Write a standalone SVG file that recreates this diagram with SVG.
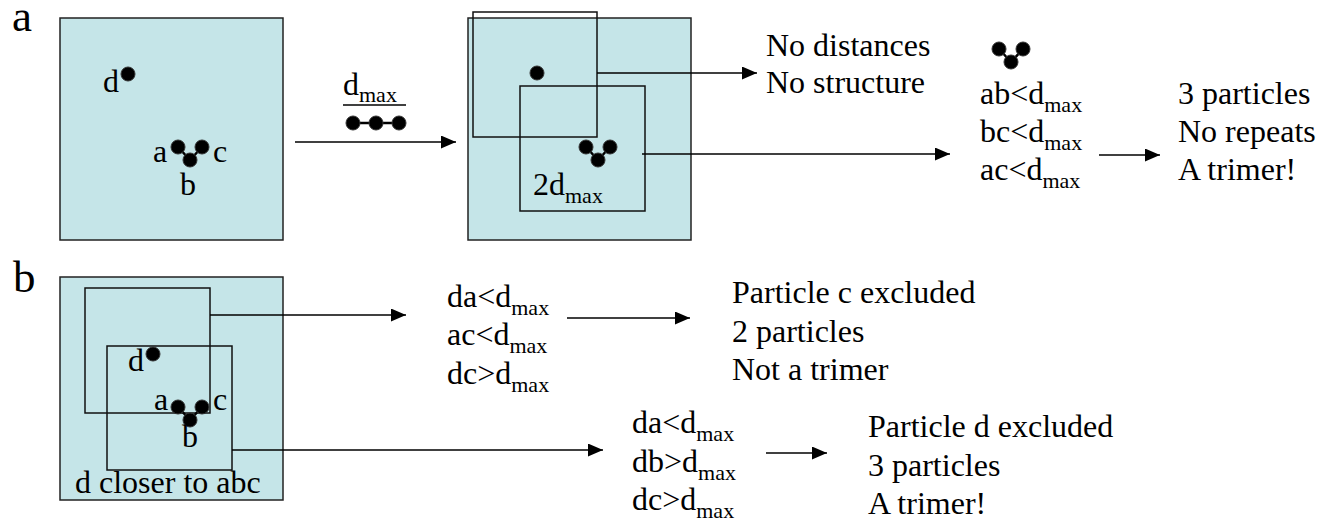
<svg xmlns="http://www.w3.org/2000/svg" width="1333" height="522" viewBox="0 0 1333 522">
<style>
text{font-family:"Liberation Serif","Times New Roman",serif;font-size:32px;fill:#000}
.big{font-size:45px}
.sub{font-size:22px}
.box{fill:#C5E5E8;stroke:#222;stroke-width:1.5}
.win{fill:none;stroke:#111;stroke-width:1.5}
.ln{stroke:#000;stroke-width:1.5;fill:none}
.dot{fill:#000;stroke:#333;stroke-width:1}
.bond{stroke:#000;stroke-width:2.5}
</style>
<defs>
<marker id="ah" markerWidth="15" markerHeight="13" refX="15" refY="6.5" orient="auto" markerUnits="userSpaceOnUse">
<path d="M0,0 L15,6.5 L0,13 Z" fill="#000"/>
</marker>
<g id="tri">
<line class="bond" x1="0" y1="0" x2="12" y2="13"/>
<line class="bond" x1="24" y1="0" x2="12" y2="13"/>
<circle class="dot" cx="0" cy="0" r="7"/>
<circle class="dot" cx="24" cy="0" r="7"/>
<circle class="dot" cx="12" cy="13" r="7"/>
</g>
</defs>

<text class="big" x="12" y="31">a</text>
<text class="big" x="13" y="292">b</text>

<g id="box-a1">
<rect class="box" x="60" y="18" width="223" height="222"/>
<circle class="dot" cx="128" cy="74" r="7"/>
<text x="103" y="92">d</text>
<use href="#tri" x="178" y="147"/>
<text x="153" y="162">a</text>
<text x="213" y="162">c</text>
<text x="180" y="195">b</text>
</g>

<g id="dmax-label">
<text x="343" y="95">d<tspan class="sub" dy="7">max</tspan></text>
<line class="ln" x1="343" y1="105" x2="406" y2="105"/>
<line class="bond" x1="353" y1="123" x2="399" y2="123"/>
<circle class="dot" cx="353" cy="123" r="7"/>
<circle class="dot" cx="376" cy="123" r="7"/>
<circle class="dot" cx="399" cy="123" r="7"/>
</g>

<g id="box-a2">
<rect class="box" x="468" y="18" width="223" height="222"/>
<rect class="win" x="473" y="12" width="124" height="125"/>
<rect class="win" x="520" y="86" width="125" height="125"/>
<circle class="dot" cx="537" cy="73" r="7"/>
<use href="#tri" x="586" y="147"/>
<text x="533" y="195">2d<tspan class="sub" dy="8">max</tspan></text>
</g>

<g id="no-dist">
<text x="766" y="56">No distances</text>
<text x="766" y="93">No structure</text>
</g>

<g id="cond-a">
<use href="#tri" x="999" y="49"/>
<text x="980" y="104">ab&lt;d<tspan class="sub" dy="8">max</tspan></text>
<text x="980" y="142">bc&lt;d<tspan class="sub" dy="8">max</tspan></text>
<text x="980" y="180">ac&lt;d<tspan class="sub" dy="8">max</tspan></text>
</g>

<g id="result-a">
<text x="1178" y="104">3 particles</text>
<text x="1178" y="142">No repeats</text>
<text x="1178" y="180">A trimer!</text>
</g>

<g id="box-b">
<rect class="box" x="60" y="277" width="223" height="223"/>
<rect class="win" x="85" y="288" width="125" height="125"/>
<rect class="win" x="107" y="346" width="125" height="124"/>
<circle class="dot" cx="153" cy="354" r="7"/>
<text x="128" y="371">d</text>
<use href="#tri" x="178" y="407"/>
<text x="154" y="410">a</text>
<text x="213" y="410">c</text>
<text x="182" y="447">b</text>
<text x="75" y="493">d closer to abc</text>
</g>

<g id="cond-b1">
<text x="447" y="307">da&lt;d<tspan class="sub" dy="8">max</tspan></text>
<text x="447" y="345">ac&lt;d<tspan class="sub" dy="8">max</tspan></text>
<text x="447" y="384">dc&gt;d<tspan class="sub" dy="8">max</tspan></text>
</g>

<g id="result-b1">
<text x="732" y="303">Particle c excluded</text>
<text x="732" y="342">2 particles</text>
<text x="732" y="380">Not a trimer</text>
</g>

<g id="cond-b2">
<text x="632" y="433">da&lt;d<tspan class="sub" dy="8">max</tspan></text>
<text x="632" y="472">db&gt;d<tspan class="sub" dy="8">max</tspan></text>
<text x="632" y="510">dc&gt;d<tspan class="sub" dy="8">max</tspan></text>
</g>

<g id="result-b2">
<text x="868" y="437">Particle d excluded</text>
<text x="868" y="476">3 particles</text>
<text x="868" y="514">A trimer!</text>
</g>

<g id="connectors">
<line class="ln" x1="295" y1="142" x2="456" y2="142" marker-end="url(#ah)"/>
<line class="ln" x1="597" y1="73" x2="757" y2="73" marker-end="url(#ah)"/>
<line class="ln" x1="642" y1="154" x2="950" y2="154" marker-end="url(#ah)"/>
<line class="ln" x1="1099" y1="155" x2="1160" y2="155" marker-end="url(#ah)"/>
<line class="ln" x1="210" y1="315" x2="406" y2="315" marker-end="url(#ah)"/>
<line class="ln" x1="567" y1="318" x2="690" y2="318" marker-end="url(#ah)"/>
<line class="ln" x1="232" y1="450" x2="603" y2="450" marker-end="url(#ah)"/>
<line class="ln" x1="766" y1="453" x2="827" y2="453" marker-end="url(#ah)"/>
</g>
</svg>
